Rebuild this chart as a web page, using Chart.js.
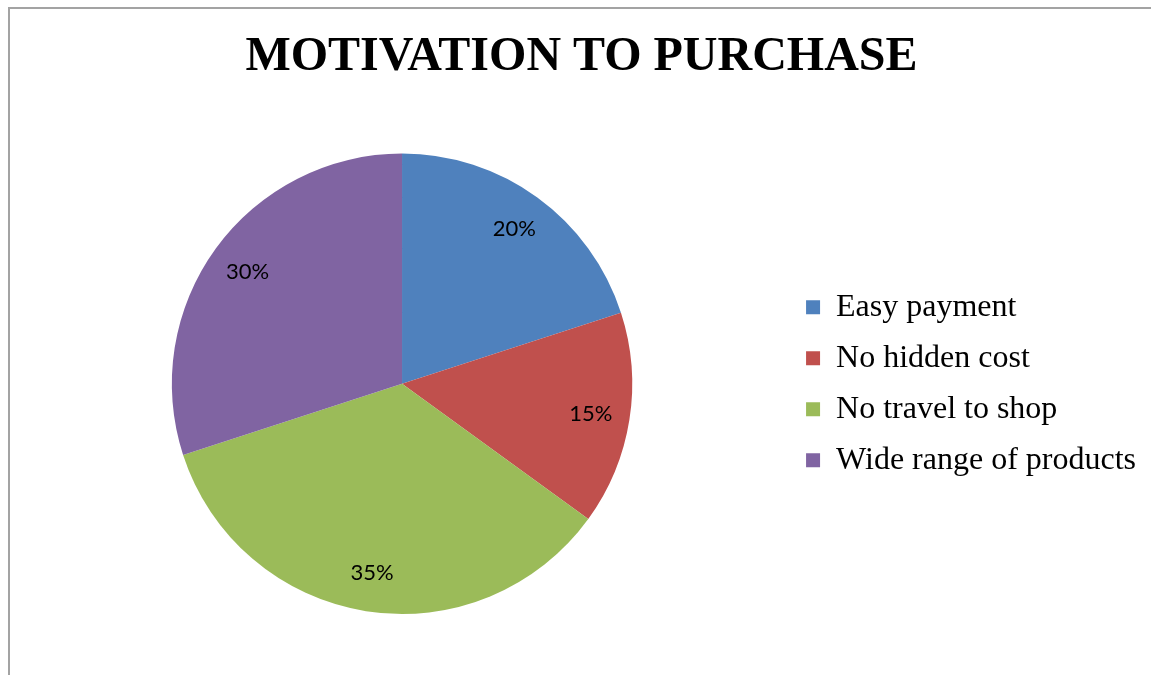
<!DOCTYPE html>
<html>
<head>
<meta charset="utf-8">
<script src="https://cdn.jsdelivr.net/npm/chart.js@4/dist/chart.umd.min.js"></script>
<style>
  html, body { margin: 0; padding: 0; background: #fff; overflow: hidden; }
  #frame {
    position: absolute; left: 8px; top: 7px; width: 1160px; height: 680px;
    border-left: 2px solid #a3a3a3; border-top: 2px solid #a3a3a3;
  }
  #wrap { position: absolute; left: 0; top: 0; width: 1151px; height: 675px; }
</style>
</head>
<body>
<div id="frame"></div>
<div id="wrap"><canvas id="pieChart" width="1151" height="675"></canvas></div>
<script>
const categories = ['Easy payment', 'No hidden cost', 'No travel to shop', 'Wide range of products'];
const shares = [20, 15, 35, 30];
const sliceColors = ['#4F81BD', '#C0504D', '#9BBB59', '#8064A2'];

// percentage labels sitting inside each slice
const sliceLabels = {
  id: 'sliceLabels',
  afterDatasetsDraw(chart) {
    const { ctx } = chart;
    const meta = chart.getDatasetMeta(0);
    ctx.save();
    ctx.font = '22px Lato, "Open Sans", sans-serif';
    ctx.fillStyle = '#000';
    ctx.textAlign = 'center';
    ctx.textBaseline = 'middle';
    meta.data.forEach((arc, i) => {
      const mid = (arc.startAngle + arc.endAngle) / 2;
      const r = arc.outerRadius * 0.83;
      ctx.fillText(shares[i] + '%', arc.x + Math.cos(mid) * r, arc.y + Math.sin(mid) * r);
    });
    ctx.restore();
  },
};

const ctx = document.getElementById('pieChart');

new Chart(ctx, {
  type: 'pie',
  data: {
    labels: categories,
    datasets: [
      {
        data: shares,
        backgroundColor: sliceColors,
        borderWidth: 0,
        hoverOffset: 0,
        hoverBorderWidth: 0,
      },
    ],
  },
  options: {
    responsive: false,
    animation: false,
    layout: {
      padding: { top: 0, bottom: 61, left: 17, right: 5 },
    },
    plugins: {
      title: {
        display: true,
        text: 'MOTIVATION TO PURCHASE',
        color: '#000',
        font: { family: '"Liberation Serif", "Times New Roman", serif', size: 48, weight: 'bold' },
        padding: { top: 29, bottom: 67 },
      },
      legend: {
        position: 'right',
        fullSize: false,
        labels: {
          color: '#000',
          font: { family: '"Liberation Serif", "Times New Roman", serif', size: 32 },
          boxWidth: 14,
          boxHeight: 14,
          padding: 19,
        },
      },
      tooltip: { enabled: false },
    },
  },
  plugins: [sliceLabels],
});
</script>
</body>
</html>
